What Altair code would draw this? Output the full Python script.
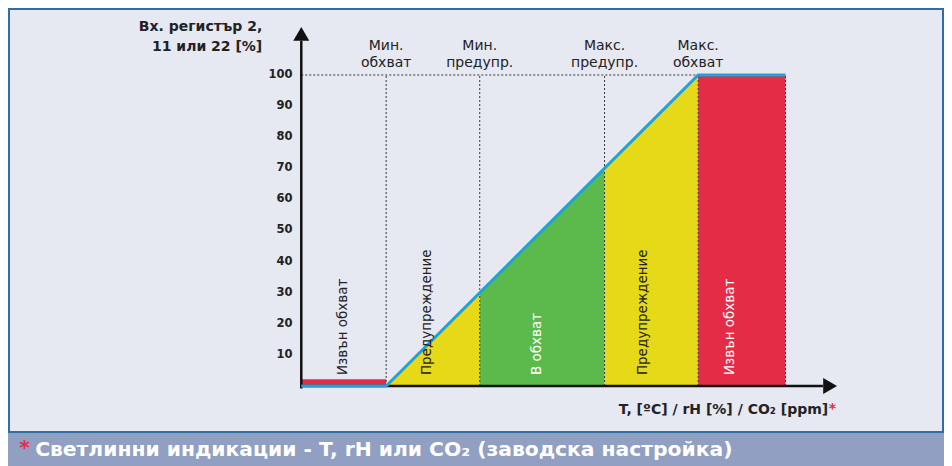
import altair as alt
import pandas as pd

# ---------------- data ----------------
y_ticks = [10, 20, 30, 40, 50, 60, 70, 80, 90, 100]

marker_x = [0, 30, 70, 100]
marker_line1 = ["Мин.", "Мин.", "Макс.", "Макс."]
marker_line2 = ["обхват", "предупр.", "предупр.", "обхват"]

zone_names = ["Извън обхват", "Предупреждение", "В обхват", "Предупреждение", "Извън обхват"]
zone_label_x = [-13.8, 13.1, 48.4, 82.4, 110.3]
zone_label_color = ["#222222", "#222222", "#ffffff", "#222222", "#ffffff"]

# area segments under the characteristic line
seg_x = [[0, 30], [30, 70], [70, 100]]
seg_y = [[0, 30], [30, 70], [70, 100]]
seg_color = ["#e6da18", "#5cb94b", "#e6da18"]

# red "out of range" rectangles
red_x = [-27.2, 100]
red_x2 = [0, 128]
red_y2 = [2.2, 100]

# characteristic line
line_x = [-27.2, 0, 100, 128]
line_y = [0, 0, 100, 100]

dotted_x = [0, 30, 70, 100, 128]

x_axis_start = -27.2
x_axis_end = 140
y_axis_end = 111

XD = [-121.2, 178.8]
YD = [-25.72, 121.54]

RED = "#e52c46"
FONT = "DejaVu Sans"

# ---------------- helpers ----------------
def X(f="x"):
    return alt.X(f"{f}:Q", scale=alt.Scale(domain=XD, nice=False, zero=False), axis=None)

def Y(f="y"):
    return alt.Y(f"{f}:Q", scale=alt.Scale(domain=YD, nice=False, zero=False), axis=None)

layers = []

# banner
banner = pd.DataFrame({"x": [XD[0]], "x2": [XD[1]], "y": [YD[0]], "y2": [-14.8]})
layers.append(alt.Chart(banner).mark_rect(color="#919fc2").encode(
    x=X(), x2="x2", y=Y(), y2="y2"))
layers.append(alt.Chart(banner).mark_rule(color="#2e6ea6", strokeWidth=2).encode(
    x=X(), x2="x2", y=Y("y2")))

# colored areas
for sx, sy, c in zip(seg_x, seg_y, seg_color):
    d = pd.DataFrame({"x": sx, "y": sy})
    layers.append(alt.Chart(d).mark_area(color=c, opacity=1).encode(
        x=X(), y=Y(), y2=alt.datum(0)))

red = pd.DataFrame({"x": red_x, "x2": red_x2, "y": [0, 0], "y2": red_y2})
layers.append(alt.Chart(red).mark_rect(color=RED).encode(x=X(), x2="x2", y=Y(), y2="y2"))

# dotted guides
hd = pd.DataFrame({"x": [x_axis_start], "x2": [100], "y": [100]})
layers.append(alt.Chart(hd).mark_rule(color="#3a3a3a", strokeWidth=1, strokeDash=[2, 2]).encode(
    x=X(), x2="x2", y=Y()))
vd = pd.DataFrame({"x": dotted_x, "y": [0] * len(dotted_x), "y2": [100] * len(dotted_x)})
layers.append(alt.Chart(vd).mark_rule(color="#3a3a3a", strokeWidth=1, strokeDash=[2, 2]).encode(
    x=X(), y=Y(), y2="y2"))

# axes
ax = pd.DataFrame({"x": [x_axis_start], "x2": [x_axis_end], "y": [0]})
layers.append(alt.Chart(ax).mark_rule(color="#111111", strokeWidth=2.5).encode(x=X(), x2="x2", y=Y()))
ay = pd.DataFrame({"x": [x_axis_start], "y": [-0.8], "y2": [y_axis_end]})
layers.append(alt.Chart(ay).mark_rule(color="#111111", strokeWidth=2.5).encode(x=X(), y=Y(), y2="y2"))
layers.append(alt.Chart(pd.DataFrame({"x": [x_axis_start], "y": [113.2]})).mark_point(
    shape="triangle-up", size=256, filled=True, color="#111111", opacity=1).encode(x=X(), y=Y()))
layers.append(alt.Chart(pd.DataFrame({"x": [142.3], "y": [0]})).mark_point(
    shape="triangle-right", size=256, filled=True, color="#111111", opacity=1).encode(x=X(), y=Y()))

# characteristic line
ld = pd.DataFrame({"x": line_x, "y": line_y, "o": list(range(len(line_x)))})
layers.append(alt.Chart(ld).mark_line(color="#1fa2d8", strokeWidth=3).encode(
    x=X(), y=Y(), order="o:Q"))

# y tick labels
yt = pd.DataFrame({"x": [-30.0] * len(y_ticks), "y": y_ticks, "t": [str(v) for v in y_ticks]})
layers.append(alt.Chart(yt).mark_text(align="right", baseline="middle", font=FONT,
                                      fontSize=11.5, fontWeight="bold", color="#222222").encode(
    x=X(), y=Y(), text="t:N"))

# top marker labels
m1 = pd.DataFrame({"x": marker_x, "y": [109.4] * 4, "t": marker_line1})
m2 = pd.DataFrame({"x": marker_x, "y": [104.0] * 4, "t": marker_line2})
for m in (m1, m2):
    layers.append(alt.Chart(m).mark_text(align="center", baseline="middle", font=FONT,
                                         fontSize=14, color="#222222").encode(
        x=X(), y=Y(), text="t:N"))

# zone labels (rotated)
zl = pd.DataFrame({"x": zone_label_x, "y": [3.5] * 5, "t": zone_names, "c": zone_label_color})
layers.append(alt.Chart(zl).mark_text(angle=270, align="left", baseline="middle", font=FONT,
                                      fontSize=13.5).encode(
    x=X(), y=Y(), text="t:N", color=alt.Color("c:N", scale=None)))

# y axis title
yti = pd.DataFrame({"x": [-39.7, -39.7], "y": [115.4, 109.0],
                    "t": ["Вх. регистър 2,", "11 или 22 [%]"]})
layers.append(alt.Chart(yti).mark_text(align="right", baseline="middle", font=FONT,
                                       fontSize=14, fontWeight="bold", color="#222222").encode(
    x=X(), y=Y(), text="t:N"))

# x axis title
xti = pd.DataFrame({"x": [141.7], "y": [-7.7], "t": ["T, [ºC] / rH [%] / CO₂ [ppm]"]})
layers.append(alt.Chart(xti).mark_text(align="right", baseline="middle", font=FONT,
                                       fontSize=14, fontWeight="bold", color="#222222").encode(
    x=X(), y=Y(), text="t:N"))
xst = pd.DataFrame({"x": [141.9], "y": [-7.5], "t": ["*"]})
layers.append(alt.Chart(xst).mark_text(align="left", baseline="middle", font=FONT,
                                       fontSize=14, fontWeight="bold", color=RED).encode(
    x=X(), y=Y(), text="t:N"))

# banner text
bt = pd.DataFrame({"x": [-112.5], "y": [-20.5],
                   "t": ["Светлинни индикации - T, rH или CO₂  (заводска настройка)"]})
layers.append(alt.Chart(bt).mark_text(align="left", baseline="middle", font=FONT,
                                      fontSize=20.3, fontWeight="bold", color="#ffffff").encode(
    x=X(), y=Y(), text="t:N"))
bst = pd.DataFrame({"x": [-117.6], "y": [-20.0], "t": ["*"]})
layers.append(alt.Chart(bst).mark_text(align="left", baseline="middle", font=FONT,
                                       fontSize=20, fontWeight="bold", color=RED).encode(
    x=X(), y=Y(), text="t:N"))

chart = alt.layer(*layers).properties(
    width=936, height=458, padding=0,
    autosize=alt.AutoSizeParams(type="none"),
    background="#ffffff",
).configure_view(fill="#e6e8f2", stroke="#2e6ea6", strokeWidth=4)

chart.save("out.html", embed_options={"renderer": "svg", "actions": False})
